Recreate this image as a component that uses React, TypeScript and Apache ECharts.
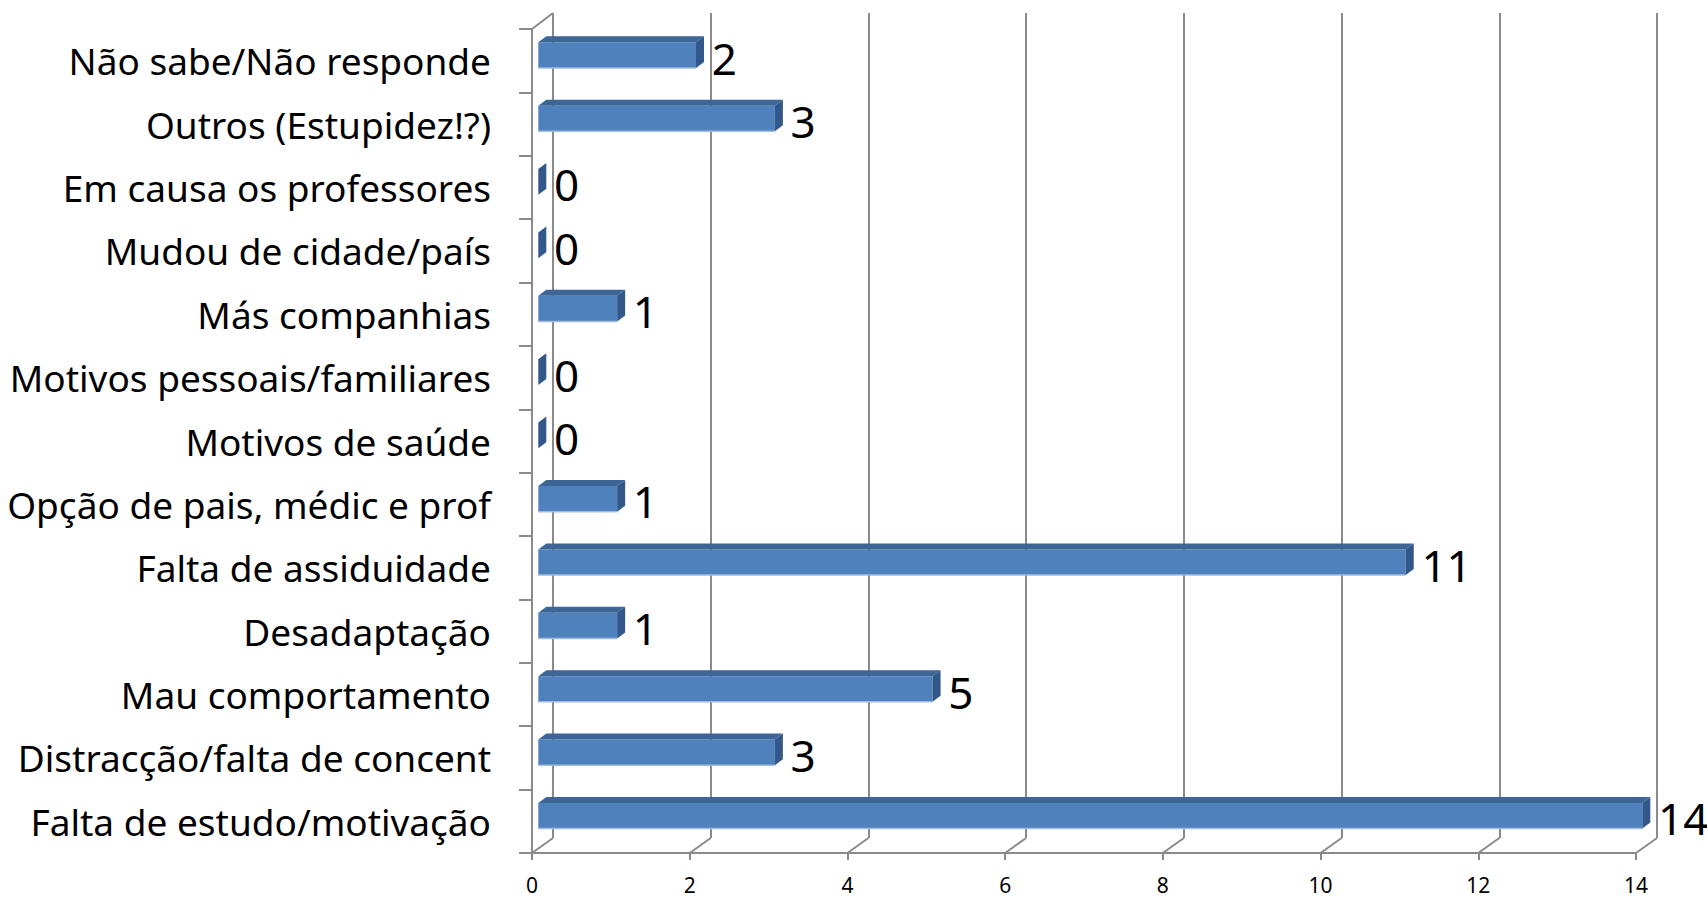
import React, { useEffect, useRef } from "react";
import * as echarts from "echarts";

// Categories listed bottom-to-top (ECharts category y-axis starts at the bottom)
const categories = [
  "Falta de estudo/motivação",
  "Distracção/falta de concent",
  "Mau comportamento",
  "Desadaptação",
  "Falta de assiduidade",
  "Opção de pais, médic e prof",
  "Motivos de saúde",
  "Motivos pessoais/familiares",
  "Más companhias",
  "Mudou de cidade/país",
  "Em causa os professores",
  "Outros (Estupidez!?)",
  "Não sabe/Não responde",
];
const values = [14, 3, 5, 1, 11, 1, 0, 0, 1, 0, 0, 3, 2];
const valueTicks = [0, 2, 4, 6, 8, 10, 12, 14];

const FONT = "'Noto Sans', 'Open Sans', sans-serif";
const GRID_COLOR = "#8a8a8a";
const FRONT = "#4F81BD";
const TOP = "#3D6596";
const SIDE = "#32578A";

export default function App() {
  const ref = useRef<HTMLDivElement>(null);
  useEffect(() => {
    if (!ref.current) return;
    const chart = echarts.init(ref.current, null, { renderer: "svg" });
    const depthX = 21;
    const depthY = 15;

    const option: any = {
      animation: false,
      backgroundColor: "#ffffff",
      grid: [
        { left: 532, right: 71, top: 29, bottom: 46 },
        { left: 532 + depthX, right: 71 - depthX, top: 29 - 16, bottom: 46 + depthY },
      ],
      xAxis: [
        {
          gridIndex: 0,
          type: "value",
          min: 0,
          max: 14,
          interval: 2,
          axisLine: { show: true, lineStyle: { color: GRID_COLOR, width: 2 } },
          axisTick: { show: true, length: 7, lineStyle: { color: GRID_COLOR, width: 2 } },
          axisLabel: { fontSize: 21, lineHeight: 22, color: "#000", fontFamily: FONT, margin: 21 },
          splitLine: { show: false },
        },
        {
          gridIndex: 1,
          type: "value",
          min: 0,
          max: 14,
          interval: 2,
          axisLine: { show: false },
          axisTick: { show: false },
          axisLabel: { show: false },
          splitLine: { show: true, lineStyle: { color: GRID_COLOR, width: 2 } },
        },
      ],
      yAxis: [
        {
          gridIndex: 0,
          type: "category",
          data: categories,
          axisLine: { show: true, lineStyle: { color: GRID_COLOR, width: 2 } },
          axisTick: { show: true, length: 13, lineStyle: { color: GRID_COLOR, width: 2 } },
          axisLabel: {
            fontSize: 37,
            color: "#000",
            fontFamily: FONT,
            margin: 41,
            padding: [10, 0, 0, 0],
          },
          splitLine: { show: false },
        },
        { gridIndex: 1, type: "value", min: 0, max: 1, show: false },
      ],
      series: [
        {
          type: "custom",
          name: "floor",
          xAxisIndex: 0,
          yAxisIndex: 0,
          silent: true,
          data: valueTicks.map((v) => [v, 0]),
          encode: { x: 0, y: 1 },
          renderItem: (params: any, api: any) => {
            const v = api.value(0);
            const x = api.coord([v, 0])[0];
            const cs = params.coordSys;
            const yb = cs.y + cs.height;
            const children: any[] = [
              {
                type: "line",
                shape: { x1: x, y1: yb, x2: x + depthX, y2: yb - depthY },
                style: { stroke: GRID_COLOR, lineWidth: 2 },
              },
            ];
            if (v === 0) {
              children.push({
                type: "line",
                shape: { x1: x, y1: cs.y, x2: x + depthX, y2: cs.y - 16 },
                style: { stroke: GRID_COLOR, lineWidth: 2 },
              });
            }
            return { type: "group", children };
          },
        },
        {
          type: "custom",
          name: "bars",
          xAxisIndex: 0,
          yAxisIndex: 0,
          data: values.map((v, i) => [v, i]),
          encode: { x: 0, y: 1 },
          renderItem: (params: any, api: any) => {
            const v = api.value(0);
            const idx = api.value(1);
            const [x1, cy] = api.coord([v, idx]);
            const x0 = api.coord([0, idx])[0];
            const band = api.size([0, 1])[1];
            const ox = 6.3;
            const ft = cy - band * 0.29;
            const fb = cy + band * 0.115;
            const xl = x0 + ox;
            const xr = x1 + ox;
            const dx = 8;
            const dy = 6;
            const children: any[] = [];
            if (xr - xl > 0.5) {
              children.push({
                type: "rect",
                shape: { x: xl, y: ft, width: xr - xl, height: fb - ft },
                style: { fill: FRONT },
              });
              children.push({
                type: "polygon",
                shape: { points: [[xl, ft], [xl + dx, ft - dy], [xr + dx, ft - dy], [xr, ft]] },
                style: { fill: TOP },
              });
              children.push({
                type: "line",
                shape: { x1: xl, y1: fb, x2: xr, y2: fb },
                style: { stroke: "#9FBBE0", lineWidth: 1.5 },
              });
            }
            children.push({
              type: "polygon",
              shape: { points: [[xr, ft], [xr + dx, ft - dy], [xr + dx, fb - dy], [xr, fb]] },
              style: { fill: SIDE },
            });
            children.push({
              type: "text",
              style: {
                x: x1 + 22,
                y: cy - 3,
                text: String(v),
                fontSize: 44,
                fontFamily: FONT,
                fill: "#000",
                align: "left",
                verticalAlign: "middle",
              },
            });
            return { type: "group", children };
          },
        },
      ],
    };
    chart.setOption(option);
    return () => chart.dispose();
  }, []);
  return (
    <div
      ref={ref}
      style={{ position: "absolute", left: 0, top: 0, width: 1707, height: 899, background: "#fff" }}
    />
  );
}
